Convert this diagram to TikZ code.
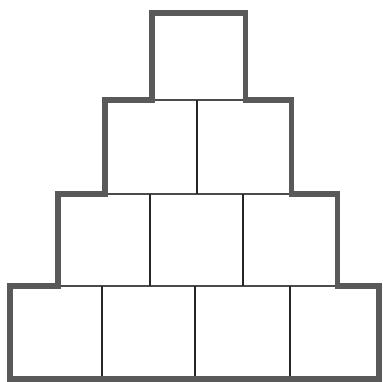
\documentclass[tikz,border=0pt]{standalone}
\begin{document}
\begin{tikzpicture}[x=1pt,y=-1pt,
  outline/.style={line width=5.5pt,draw=black!65,line join=miter},
  divider/.style={line width=1.8pt,draw=black!85},
  shelf/.style={line width=2.4pt,draw=black!70}]
\useasboundingbox (0,0) rectangle (382,382);
% interior lines
\draw[shelf] (152,100) -- (245.5,100);
\draw[shelf] (105,194) -- (291.5,194);
\draw[shelf] (58,286) -- (337.5,286);
\draw[divider] (197,100) -- (197,194);
\draw[divider] (150,194) -- (150,286);
\draw[divider] (243,194) -- (243,286);
\draw[divider] (102,286) -- (102,379);
\draw[divider] (195,286) -- (195,379);
\draw[divider] (290,286) -- (290,379);
% outer outline
\draw[outline] (10,379) -- (10,286) -- (58,286) -- (58,194) -- (105,194) -- (105,100)
  -- (152,100) -- (152,13) -- (245.5,13) -- (245.5,100) -- (291.5,100) -- (291.5,194)
  -- (337.5,194) -- (337.5,286) -- (379,286) -- (379,379) -- cycle;
\end{tikzpicture}
\end{document}
